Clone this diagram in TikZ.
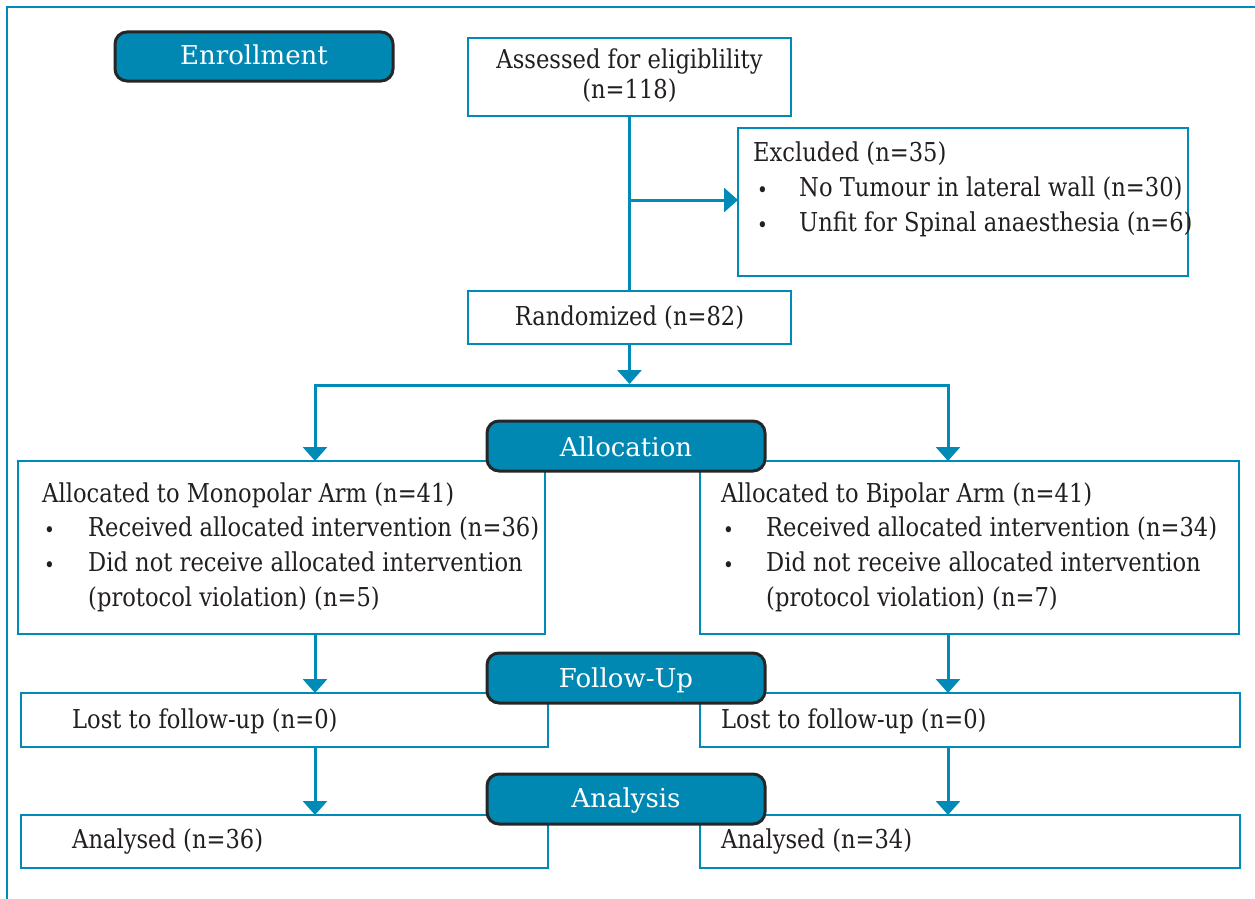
\documentclass[tikz,border=0pt]{standalone}
\usepackage{fontspec}
\setmainfont[FakeStretch=0.87]{DejaVu Serif}
\newfontfamily\pillfont{DejaVu Serif}
\usetikzlibrary{arrows.meta}
\definecolor{cblue}{RGB}{0,138,184}
\definecolor{pillblue}{RGB}{0,136,179}
\definecolor{txtc}{RGB}{35,31,32}
\begin{document}
\begin{tikzpicture}[x=1pt,y=-1pt,
 box/.style={draw=cblue,line width=2.5pt,fill=white,anchor=north west,inner sep=0pt,outer sep=0pt},
 pill/.style={draw=black!85,line width=3pt,fill=pillblue,rounded corners=12pt,anchor=north west,inner sep=0pt,outer sep=0pt},
 tx/.style={anchor=base west,inner sep=0pt,text=txtc,font=\fontsize{26}{30}\selectfont},
 bul/.style={anchor=base west,inner sep=0pt,text=txtc,font=\fontsize{21}{24}\selectfont},
 ptx/.style={anchor=base,inner sep=0pt,text=white,font=\pillfont\fontsize{26}{30}\selectfont},
 conn/.style={draw=cblue,line width=3pt},
 arr/.style={conn,-{Triangle[width=24pt,length=14pt]}},
]
\useasboundingbox (0,0) rectangle (1255,899);
\draw[cblue,line width=2pt] (7,899) -- (7,7) -- (1255,7);

% boxes
\node[box,minimum width=323pt,minimum height=78pt] (assess) at (468,38) {};
\node[box,minimum width=450pt,minimum height=148pt] (excl) at (738,128) {};
\node[box,minimum width=323pt,minimum height=53pt] (rand) at (468,291) {};
\node[box,minimum width=527pt,minimum height=173pt] (mono) at (18,461) {};
\node[box,minimum width=539pt,minimum height=173pt] (bip) at (700,461) {};
\node[box,minimum width=527pt,minimum height=54pt] (lostL) at (21,693) {};
\node[box,minimum width=540pt,minimum height=54pt] (lostR) at (700,693) {};
\node[box,minimum width=527pt,minimum height=53pt] (anL) at (21,815) {};
\node[box,minimum width=540pt,minimum height=53pt] (anR) at (700,815) {};

% connectors
\coordinate (br) at (629.5,200);
\coordinate (split) at (629.5,384);
\coordinate (sl) at (315,385);
\coordinate (sr) at (948,385);
\draw[conn] (assess.south) -- (rand.north);
\draw[arr] (br) -- (excl.west |- br);
\draw[arr] (rand.south) -- (split);
\draw[conn,line cap=rect] (sl) -- (sr);
\draw[arr] (sl) -- (sl |- mono.north);
\draw[arr] (sr) -- (sr |- bip.north);
\draw[arr] (sl |- mono.south) -- (sl |- lostL.north);
\draw[arr] (sr |- bip.south) -- (sr |- lostR.north);
\draw[arr] (sl |- lostL.south) -- (sl |- anL.north);
\draw[arr] (sr |- lostR.south) -- (sr |- anR.north);

% pills
\node[pill,minimum width=278pt,minimum height=49pt] (enroll) at (115,32) {};
\node[pill,minimum width=278pt,minimum height=50pt] (alloc) at (487,421) {};
\node[pill,minimum width=278pt,minimum height=50pt] (follow) at (487,653) {};
\node[pill,minimum width=278pt,minimum height=50pt] (analysis) at (487,774) {};
\node[ptx] (enrollT) at (254,65) {Enrollment};
\node[ptx] (allocT) at (626,456) {Allocation};
\node[ptx] (followT) at (626,687) {Follow-Up};
\node[ptx] (analysisT) at (626,807) {Analysis};

% texts
\node[tx,anchor=base] (assessT1) at (629.5,68) {Assessed for eligiblility};
\node[tx,anchor=base] (assessT2) at (629.5,99) {(n=118)};
\node[tx] (exclT) at (753,161) {Excluded (n=35)};
\node[bul] (exclB1) at (757,197) {•};
\node[bul] (exclB2) at (757,232) {•};
\node[tx] (exclT1) at (799,196) {No Tumour in lateral wall (n=30)};
\node[tx] (exclT2) at (799,231) {Unfit for Spinal anaesthesia (n=6)};
\node[tx,anchor=base] (randT) at (629.5,325) {Randomized (n=82)};

\node[tx] (monoT) at (42,502) {Allocated to Monopolar Arm (n=41)};
\node[bul] (monoB1) at (44,537) {•};
\node[bul] (monoB2) at (44,572) {•};
\node[tx] (monoT1) at (88,536) {Received allocated intervention (n=36)};
\node[tx] (monoT2) at (88,571) {Did not receive allocated intervention};
\node[tx] (monoT3) at (88,606) {(protocol violation) (n=5)};

\node[tx] (bipT) at (721,502) {Allocated to Bipolar Arm (n=41)};
\node[bul] (bipB1) at (723,537) {•};
\node[bul] (bipB2) at (723,572) {•};
\node[tx] (bipT1) at (766,536) {Received allocated intervention (n=34)};
\node[tx] (bipT2) at (766,571) {Did not receive allocated intervention};
\node[tx] (bipT3) at (766,606) {(protocol violation) (n=7)};

\node[tx] (lostLT) at (72,728) {Lost to follow-up (n=0)};
\node[tx] (lostRT) at (721,728) {Lost to follow-up (n=0)};
\node[tx] (anLT) at (72,848) {Analysed (n=36)};
\node[tx] (anRT) at (721,848) {Analysed (n=34)};
\end{tikzpicture}
\end{document}
